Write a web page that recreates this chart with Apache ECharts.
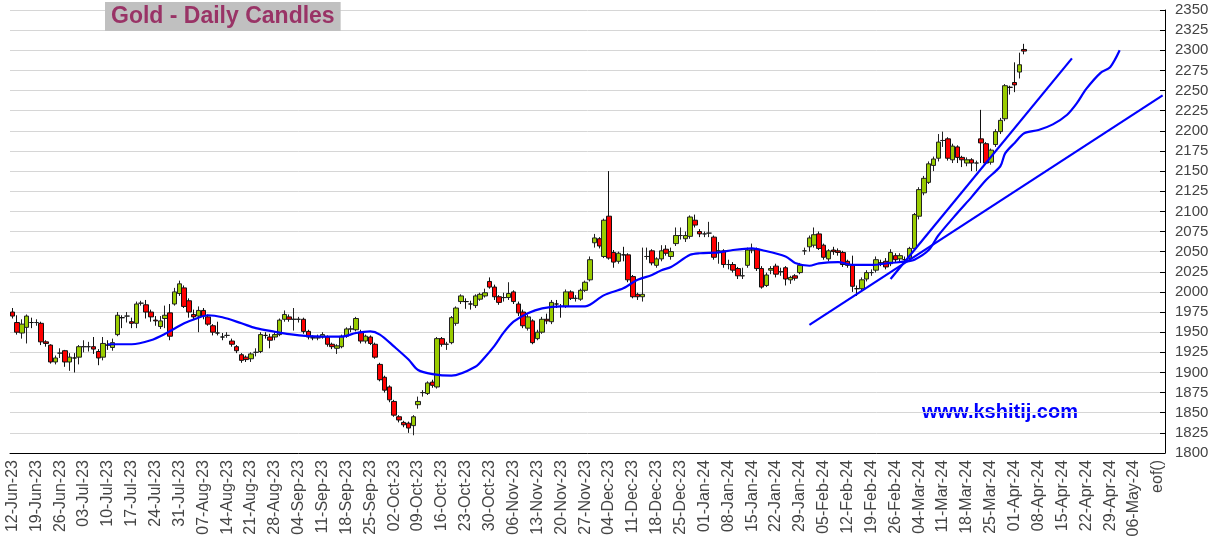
<!DOCTYPE html>
<html><head><meta charset="utf-8">
<script src="https://cdn.jsdelivr.net/npm/echarts@6/dist/echarts.min.js"></script>
<style>html,body{margin:0;padding:0;background:#fff}#c{width:1215px;height:547px}</style>
</head><body><div id="c"></div>
<script>
// Weekly tick labels (Mondays) and end marker
const weekLabels = ['12-Jun-23','19-Jun-23','26-Jun-23','03-Jul-23','10-Jul-23','17-Jul-23','24-Jul-23','31-Jul-23','07-Aug-23','14-Aug-23','21-Aug-23','28-Aug-23','04-Sep-23','11-Sep-23','18-Sep-23','25-Sep-23','02-Oct-23','09-Oct-23','16-Oct-23','23-Oct-23','30-Oct-23','06-Nov-23','13-Nov-23','20-Nov-23','27-Nov-23','04-Dec-23','11-Dec-23','18-Dec-23','25-Dec-23','01-Jan-24','08-Jan-24','15-Jan-24','22-Jan-24','29-Jan-24','05-Feb-24','12-Feb-24','19-Feb-24','26-Feb-24','04-Mar-24','11-Mar-24','18-Mar-24','25-Mar-24','01-Apr-24','08-Apr-24','15-Apr-24','22-Apr-24','29-Apr-24','06-May-24'];
const endLabel = 'eof()';

// Daily candles [open, close, low, high], one per weekday from 12-Jun-23
const candles = [
[1975,1970,1967,1980],[1962,1950,1947,1971],[1949,1960,1942,1966],[1956,1970,1936,1972],[1962,1962,1955,1968],
[1962,1962,1958,1966],[1961,1938,1934,1963],[1938,1936,1932,1940],[1934,1913,1911,1935],[1913,1918,1910,1921],
[1924,1924,1918,1930],[1927,1913,1907,1928],[1913,1919,1902,1924],[1918,1918,1900,1924],[1919,1932,1910,1934],
[1932,1932,1925,1940],[1932,1932,1926,1938],[1932,1929,1923,1944],[1926,1918,1909,1929],[1919,1936,1915,1944],
[1934,1934,1928,1940],[1931,1937,1927,1942],[1947,1971,1945,1975],[1968,1968,1955,1971],[1970,1970,1962,1975],
[1963,1961,1955,1968],[1961,1985,1955,1988],[1986,1986,1983,1989],[1984,1975,1967,1990],[1975,1969,1963,1978],
[1965,1964,1958,1970],[1957,1964,1954,1970],[1967,1971,1955,1983],[1974,1945,1940,1985],[1985,2000,1983,2005],
[1998,2010,1995,2014],[2005,1982,1980,2008],[1989,1975,1968,1992],[1972,1969,1965,1978],[1970,1977,1950,1982],
[1977,1970,1966,1980],[1969,1960,1958,1972],[1958,1950,1946,1960],[1949,1949,1946,1963],[1944,1944,1940,1949],
[1946,1946,1943,1950],[1939,1935,1932,1942],[1932,1927,1924,1934],[1922,1915,1912,1924],[1919,1916,1913,1921],
[1917,1923,1913,1925],[1925,1925,1920,1930],[1926,1947,1924,1950],[1946,1946,1942,1950],[1944,1940,1930,1948],
[1944,1947,1940,1950],[1947,1965,1945,1967],[1966,1972,1963,1977],[1969,1966,1963,1972],[1966,1966,1952,1980],
[1966,1966,1962,1969],[1966,1951,1948,1968],[1951,1944,1941,1953],[1943,1943,1940,1946],[1943,1943,1940,1947],
[1944,1947,1942,1950],[1944,1935,1932,1946],[1935,1932,1929,1937],[1930,1933,1923,1935],[1932,1945,1930,1947],
[1945,1954,1943,1956],[1954,1954,1950,1958],[1953,1967,1951,1969],[1950,1939,1936,1953],[1939,1945,1936,1947],
[1944,1936,1934,1946],[1935,1919,1917,1937],[1910,1891,1889,1912],[1894,1878,1875,1896],[1882,1866,1863,1884],
[1864,1847,1845,1866],[1845,1841,1838,1847],[1838,1835,1832,1840],[1837,1831,1825,1839],[1834,1845,1822,1847],
[1860,1864,1855,1870],[1875,1875,1870,1878],[1874,1887,1872,1889],[1888,1884,1881,1891],[1882,1942,1880,1944],
[1942,1935,1932,1944],[1935,1935,1928,1938],[1937,1968,1935,1970],[1961,1980,1958,1982],[1988,1995,1985,1997],
[1988,1988,1979,1992],[1985,1985,1978,1989],[1983,1995,1980,1997],[1991,1997,1989,1999],[1995,1999,1993,2004],
[2013,2006,2004,2018],[2006,1994,1990,2009],[1994,1987,1984,1996],[1993,1993,1988,1999],[1993,1998,1990,2012],
[2000,1988,1985,2002],[1985,1974,1970,1988],[1975,1958,1955,1978],[1955,1969,1952,1972],[1964,1937,1935,1966],
[1942,1950,1940,1953],[1950,1966,1948,1969],[1966,1964,1960,1973],[1963,1987,1960,1990],[1985,1985,1980,1990],
[1982,1982,1968,1985],[1982,2000,1980,2003],[2000,1992,1990,2002],[1992,1992,1988,1996],[1991,2002,1989,2004],
[2002,2012,2000,2014],[2015,2040,2013,2044],[2061,2067,2055,2072],[2066,2057,2054,2068],[2044,2089,2042,2091],
[2094,2042,2040,2150],[2049,2037,2030,2052],[2038,2048,2035,2050],[2046,2046,2038,2056],[2046,2015,2012,2048],
[2019,1994,1992,2021],[1997,1994,1990,1999],[1994,1997,1988,2055],[2044,2044,2040,2055],[2051,2036,2033,2053],
[2033,2041,2030,2043],[2041,2051,2038,2058],[2053,2048,2045,2058],[2044,2050,2040,2055],[2060,2070,2057,2080],
[2070,2070,2065,2080],[2066,2070,2062,2075],[2069,2093,2066,2095],[2089,2083,2080,2096],[2075,2072,2068,2078],
[2072,2072,2068,2075],[2073,2073,2068,2087],[2068,2043,2040,2070],[2051,2051,2035,2062],[2051,2034,2030,2053],
[2034,2034,2028,2040],[2034,2027,2024,2037],[2029,2020,2016,2031],[2020,2020,2016,2030],[2033,2052,2030,2055],
[2052,2052,2048,2060],[2053,2029,2026,2055],[2029,2006,2004,2032],[2008,2021,2006,2024],[2027,2029,2022,2032],
[2032,2022,2018,2035],[2025,2025,2020,2030],[2030,2016,2008,2032],[2015,2018,2010,2020],[2020,2017,2014,2022],
[2024,2033,2022,2036],[2051,2051,2046,2055],[2056,2067,2050,2070],[2058,2071,2055,2080],[2072,2054,2052,2075],
[2058,2043,2040,2060],[2041,2051,2038,2053],[2052,2050,2046,2056],[2051,2049,2045,2054],[2049,2034,2031,2051],
[2038,2033,2030,2040],[2033,2007,2000,2045],[2004,2004,1995,2008],[2004,2015,2002,2018],[2016,2024,2013,2027],
[2024,2024,2020,2028],[2027,2040,2024,2044],[2036,2036,2032,2040],[2038,2031,2028,2042],[2035,2049,2032,2053],
[2045,2040,2036,2048],[2041,2045,2038,2048],[2040,2040,2036,2044],[2042,2054,2040,2056],[2054,2096,2052,2098],
[2094,2127,2090,2130],[2123,2141,2120,2144],[2136,2159,2134,2162],[2157,2165,2150,2168],[2166,2186,2162,2196],
[2188,2188,2180,2199],[2190,2166,2163,2192],[2164,2181,2160,2184],[2180,2167,2160,2182],[2167,2164,2155,2169],
[2160,2164,2156,2167],[2164,2160,2150,2166],[2160,2160,2150,2163],[2190,2185,2160,2226],[2184,2160,2158,2186],
[2161,2176,2158,2178],[2183,2199,2180,2202],[2199,2213,2196,2216],[2215,2256,2212,2258],[2254,2254,2245,2256],
[2260,2257,2248,2285],[2273,2282,2265,2297],[2301,2299,2295,2308]
];

// Moving-average curve, sampled [dayIndex, value]
const maPoints = [
[20,1935],[25,1935],[29,1940],[32,1948],[36,1961],[39,1968],[41,1971],[44,1968.5],[48,1961],[51,1955],
[55,1950.5],[58,1947.5],[62,1945],[65,1944.5],[69,1944.5],[72,1949],[75,1951],[77,1947],[80,1932],[83,1916],
[85,1903],[88,1898],[92,1896],[97,1907],[99,1919],[101,1933],[103,1950],[105,1963],[108,1973.5],[111,1979.5],
[115,1982],[120,1982],[121,1984],[124,1996],[128,2004.5],[131,2015],[134,2021],[136,2027],[138,2031],[142,2046],
[144,2048],[148,2049],[151,2052],[155,2054],[157,2052],[162,2044],[164,2036],[167,2032.5],[169,2035.5],[173,2037],
[176,2033.5],[180,2033.5],[184,2036],[187,2037.5],[189,2040],[192,2052],[194,2070],[198,2098],[201,2118],[204,2139],
[207,2156],[208,2172],[210,2185],[212,2197],[215,2201],[218,2208],[221,2220],[223,2234],[225,2252],[228,2272],
[230,2279],[232,2300]
];

// Trend lines [dayIndex, value]
const trendShallow = [[167,1959],[241,2244]];
const trendSteep = [[184,2016],[222,2290]];

const yMin = 1800, yMax = 2350, yStep = 25;

// Build day categories: each week = Monday label + 4 weekdays; then end marker
const categories = [];
weekLabels.forEach(function(w){ categories.push(w); for (let d=1; d<5; d++) categories.push(w + '|' + d); });
categories.push(endLabel);
categories.push(endLabel + '|1');
const labelIdx = {};
weekLabels.forEach(function(w, k){ labelIdx[k*5] = true; });
labelIdx[categories.indexOf(endLabel)] = true;
const showTick = function(i){ return !!labelIdx[i]; };

const chart = echarts.init(document.getElementById('c'), null, {renderer:'canvas'});
chart.setOption({
  animation: false,
  backgroundColor: '#ffffff',
  title: {
    text: 'Gold - Daily Candles', left: 105, top: 2,
    backgroundColor: '#c0c0c0', padding: [3, 6, 3, 6],
    textStyle: {color: '#993366', fontSize: 23, fontWeight: 'bold', fontFamily: 'Liberation Sans, Arial, sans-serif'}
  },
  graphic: [{
    type: 'text', left: 922, top: 402,
    style: {text: 'www.kshitij.com', fill: '#0000ff', font: 'bold 20px "Liberation Sans", Arial, sans-serif'}
  }],
  grid: {left: 10, right: 50, top: 10, bottom: 94},
  xAxis: [{
    type: 'category', data: categories, boundaryGap: true,
    axisLine: {lineStyle: {color: '#000', width: 1}},
    axisTick: {interval: showTick, alignWithLabel: true, length: 5, lineStyle: {color: '#000'}},
    axisLabel: {interval: showTick, rotate: 90, margin: 7, color: '#444', fontSize: 16,
      fontFamily: 'Liberation Sans, Arial, sans-serif'},
    splitLine: {show: false}
  },{
    type: 'category', data: categories, boundaryGap: true, position: 'bottom',
    axisLine: {show: false},
    axisTick: {interval: showTick, alignWithLabel: true, inside: true, length: 5, lineStyle: {color: '#000'}},
    axisLabel: {show: false}, splitLine: {show: false}
  }],
  yAxis: {
    type: 'value', position: 'right', min: yMin, max: yMax, interval: yStep,
    axisLine: {show: true, lineStyle: {color: '#000'}},
    axisTick: {show: true, inside: true, length: 5, lineStyle: {color: '#000'}},
    axisLabel: {color: '#444', fontSize: 15, margin: 10, fontFamily: 'Liberation Sans, Arial, sans-serif',
      formatter: function(v){ return String(v); }},
    splitLine: {show: true, lineStyle: {color: '#d6d6d6', width: 1}}
  },
  series: [
    {
      type: 'candlestick', data: candles, barWidth: 5,
      itemStyle: {color: '#99cc00', color0: '#ff0000', borderColor: '#222', borderColor0: '#111', borderWidth: 1}
    },
    {type: 'line', data: maPoints, smooth: 0.3, showSymbol: false, lineStyle: {color: '#0000ff', width: 2.2}, z: 3},
    {type: 'line', data: trendShallow, showSymbol: false, lineStyle: {color: '#0000ff', width: 2.2}, z: 3},
    {type: 'line', data: trendSteep, showSymbol: false, lineStyle: {color: '#0000ff', width: 2.2}, z: 3}
  ]
});
</script></body></html>
